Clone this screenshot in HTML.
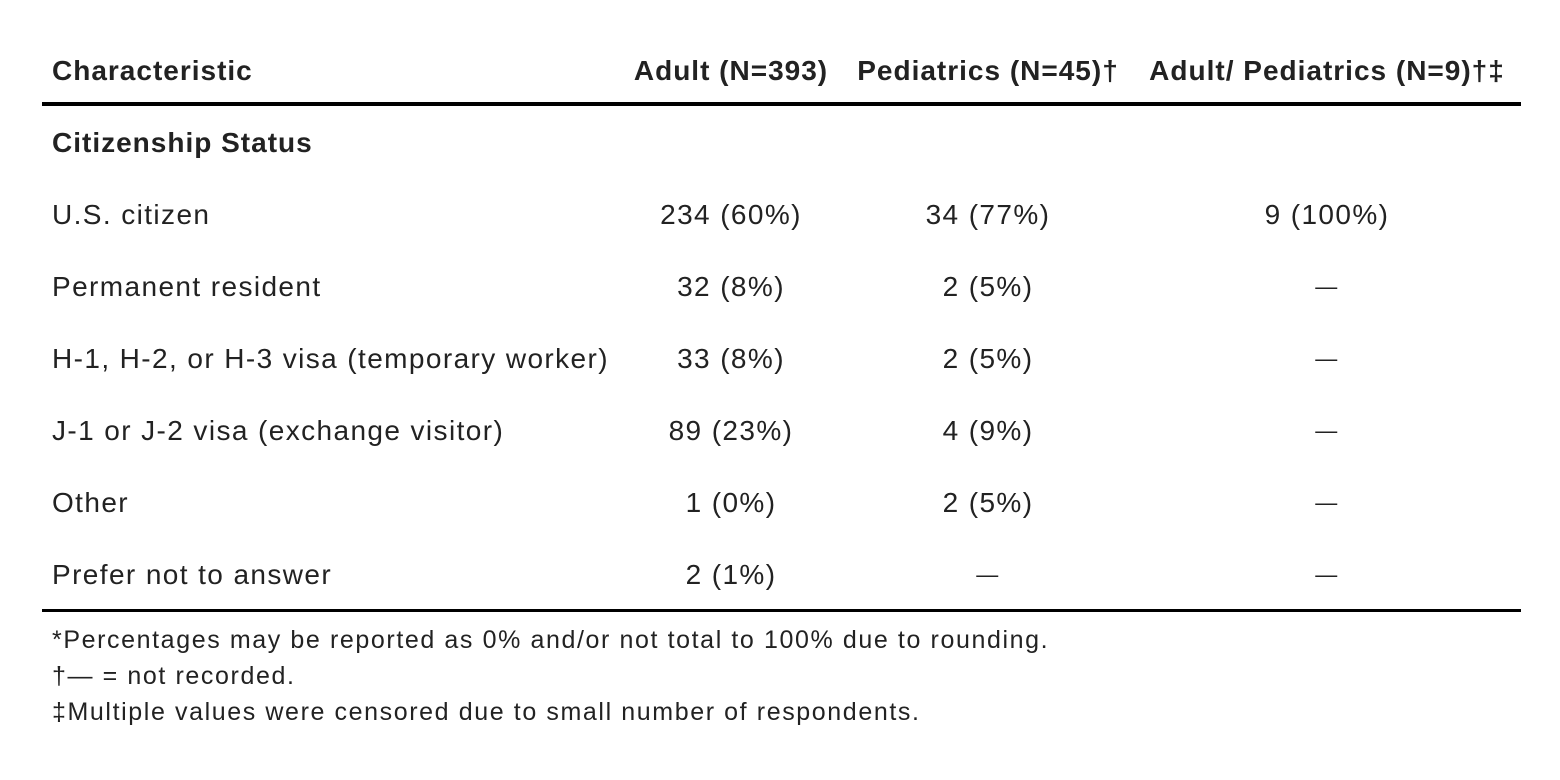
<!DOCTYPE html>
<html><head><meta charset="utf-8"><style>
body{margin:0;width:1560px;height:780px;background:#fff;position:relative;font-family:"Liberation Sans",sans-serif;color:#222;overflow:hidden}
.t{position:absolute;white-space:nowrap;font-size:28px;line-height:36px;letter-spacing:1.4px;transform:translateY(-50%)}
.b{font-weight:bold;letter-spacing:1px}
.c{transform:translate(-50%,-50%)}
.d{font-size:22px}
.line{position:absolute;left:42px;width:1479px;background:#000}
.f{position:absolute;left:52px;font-size:25px;line-height:36px;letter-spacing:1.6px;white-space:nowrap;transform:translateY(-50%)}
</style></head><body>
<div>
<div class="t b" style="left:52px;top:71px">Characteristic</div>
<div class="t b c" style="left:731px;top:71px">Adult (N=393)</div>
<div class="t b c" style="left:988px;top:71px">Pediatrics (N=45)†</div>
<div class="t b c" style="left:1327px;top:71px">Adult/ Pediatrics (N=9)†‡</div>
<div class="line" style="top:102px;height:4px"></div>
<div class="t b" style="left:52px;top:143px">Citizenship Status</div>
<div id="rows"></div>
<div class="line" style="top:609px;height:3px"></div>
<div class="f" style="top:640px">*Percentages may be reported as 0% and/or not total to 100% due to rounding.</div>
<div class="f" style="top:676px">†— = not recorded.</div>
<div class="f" style="top:712px">‡Multiple values were censored due to small number of respondents.</div>
</div>
<script>
const labels=["U.S. citizen","Permanent resident","H-1, H-2, or H-3 visa (temporary worker)","J-1 or J-2 visa (exchange visitor)","Other","Prefer not to answer"];
const adult=["234 (60%)","32 (8%)","33 (8%)","89 (23%)","1 (0%)","2 (1%)"];
const peds=["34 (77%)","2 (5%)","2 (5%)","4 (9%)","2 (5%)","—"];
const both=["9 (100%)","—","—","—","—","—"];
const host=document.getElementById('rows');
labels.forEach((l,i)=>{
  const y=215+i*72;
  const cells=[[l,52,false],[adult[i],731,true],[peds[i],988,true],[both[i],1327,true]];
  cells.forEach((c,j)=>{
    const d=document.createElement('div');
    d.className='t'+(c[2]?' c':'')+(c[0]==='—'?' d':'');
    d.style.left=c[1]+'px';d.style.top=y+'px';
    d.textContent=c[0];
    
    
    host.appendChild(d);
  });
});
</script>
</body></html>
